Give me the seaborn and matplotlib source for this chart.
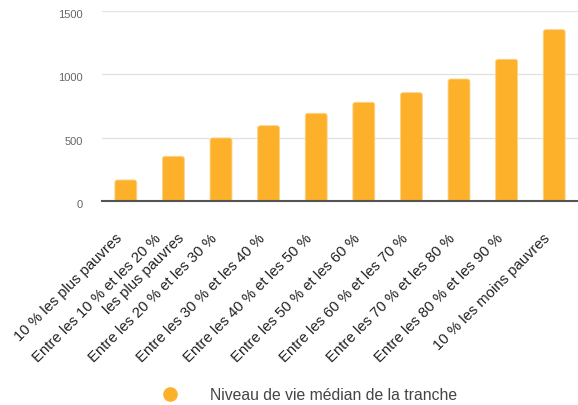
import matplotlib
matplotlib.use("Agg")
import matplotlib.pyplot as plt
import matplotlib.transforms as mtransforms
from matplotlib.lines import Line2D
from matplotlib.patches import FancyBboxPatch
import seaborn as sns
import pandas as pd

# Income deciles and the median standard of living within each decile
tranches = [
    "10 % les plus pauvres",
    "Entre les 10 % et les 20 %    \nles plus pauvres",
    "Entre les 20 % et les 30 %",
    "Entre les 30 % et les 40 %",
    "Entre les 40 % et les 50 %",
    "Entre les 50 % et les 60 %",
    "Entre les 60 % et les 70 %",
    "Entre les 70 % et les 80 %",
    "Entre les 80 % et les 90 %",
    "10 % les moins pauvres",
]
niveau_median = [166, 353, 498, 595, 693, 780, 856, 964, 1120, 1354]
serie = "Niveau de vie médian de la tranche"
y_ticks = [0, 500, 1000, 1500]

BAR = "#FDB12B"

sns.set_theme(style="white")
plt.rcParams["font.family"] = ["Liberation Sans", "DejaVu Sans"]

df = pd.DataFrame({"tranche": tranches, "valeur": niveau_median})

fig = plt.figure(figsize=(5.78, 4.06), dpi=100)
ax = fig.add_axes([0.1765, 0.5025, 0.8235, 0.4675])

sns.barplot(data=df, x="tranche", y="valeur", color=BAR, saturation=1,
            width=0.46, ax=ax, zorder=3)

ax.set_ylim(0, 1500)
ax.set_xlim(-0.5, len(tranches) - 0.5)

# Give the bars slightly rounded tops
fig.canvas.draw()
p0 = ax.transData.transform((0, 0))
p1 = ax.transData.transform((1, 1))
px_x = p1[0] - p0[0]
px_y = p1[1] - p0[1]
radius_px = 2.5
rx = radius_px / px_x
ry = radius_px / px_y
for bar in list(ax.patches):
    x, w, h = bar.get_x(), bar.get_width(), bar.get_height()
    rounded = FancyBboxPatch((x, -ry), w, h + ry,
                             boxstyle=f"round,pad=0,rounding_size={rx}",
                             mutation_aspect=px_x / px_y,
                             facecolor=BAR, edgecolor="#FDD28A",
                             linewidth=0.6, zorder=3)
    bar.remove()
    ax.add_patch(rounded)

ax.set_yticks(y_ticks)
ax.set_yticklabels([str(t) for t in y_ticks], fontsize=8, color="#666666")
ax.yaxis.grid(True, color="#E3E3E3", linewidth=1.0, zorder=0)
ax.set_axisbelow(True)
for s in ["top", "right", "left"]:
    ax.spines[s].set_visible(False)
ax.spines["bottom"].set_color("#555555")
ax.spines["bottom"].set_linewidth(1.5)
ax.spines["bottom"].set_zorder(4)
ax.tick_params(axis="y", length=0, pad=13.7)
ax.tick_params(axis="x", length=0, pad=7)
ax.set_xlabel("")
ax.set_ylabel("")

for lab in ax.get_yticklabels():
    lab.set_transform(lab.get_transform() +
                      mtransforms.ScaledTranslation(0, -2 / 100, fig.dpi_scale_trans))

for lab in ax.get_xticklabels():
    # two-line labels sit centred on their tick rather than hanging below it
    two_lines = "\n" in lab.get_text()
    dx, dy = (-8, -8) if two_lines else (-11, -20)
    lab.set_rotation(45)
    lab.set_ha("right")
    lab.set_va("top")
    lab.set_rotation_mode("anchor")
    lab.set_fontsize(10.7)
    lab.set_color("#222222")
    lab.set_transform(lab.get_transform() +
                      mtransforms.ScaledTranslation(dx / 100, dy / 100, fig.dpi_scale_trans))

handle = Line2D([], [], marker="o", linestyle="", markersize=9.5,
                markerfacecolor=BAR, markeredgecolor=BAR)
fig.legend([handle], [serie], loc="center left",
           bbox_to_anchor=(154 / 578, 1 - 396 / 406), frameon=False,
           handletextpad=1.6, fontsize=11.3, labelcolor="#444444",
           borderpad=0, borderaxespad=0)

fig.savefig("out.png", dpi=100)
